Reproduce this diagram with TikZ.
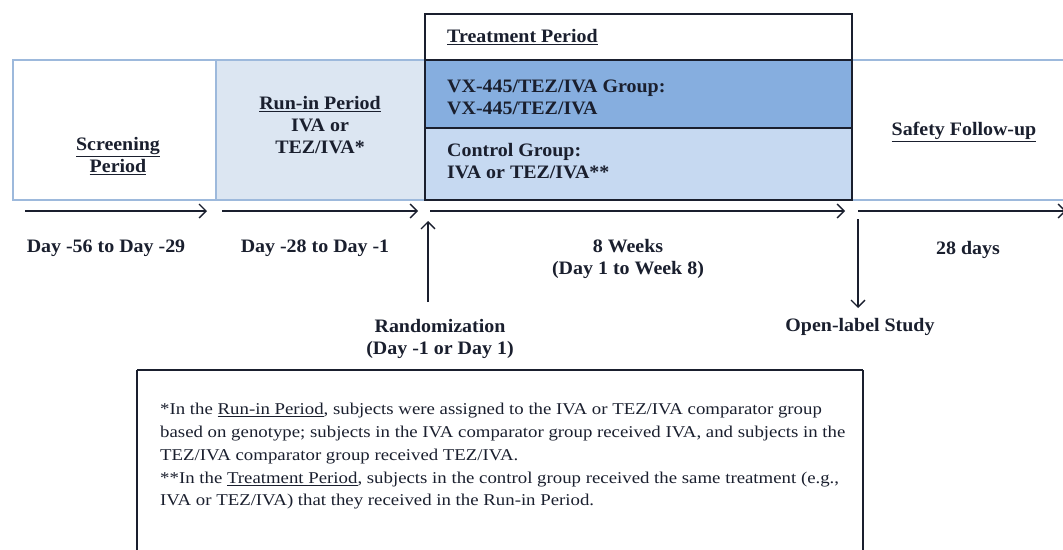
\documentclass[tikz,border=0pt]{standalone}
\usepackage{fontspec}
\setmainfont{Liberation Serif}
\newfontfamily\lblfont[FakeStretch=1.05]{Liberation Serif}
\newfontfamily\notefont[FakeStretch=1.14]{Liberation Serif}
\usetikzlibrary{arrows.meta}
\definecolor{bandline}{HTML}{9DB9DC}
\definecolor{runfill}{HTML}{DCE6F2}
\definecolor{vxfill}{HTML}{86AEDF}
\definecolor{ctlfill}{HTML}{C6D9F1}
\definecolor{ink}{HTML}{1A1F2E}
\tikzset{
  lbl/.style={font=\lblfont\fontsize{19}{22}\selectfont\bfseries, text=ink, inner sep=0pt, align=center},
  tlbl/.style={lbl, anchor=west, align=left},
  note/.style={font=\notefont\fontsize{16.5}{19}\selectfont, text=ink, inner sep=0pt, anchor=west},
  tl/.style={draw=ink, line width=1.3pt, -{Straight Barb[length=7pt,width=14pt,line width=1.3pt]}},
  box/.style={draw=ink, line width=1.8pt},
}
\begin{document}
\begin{tikzpicture}[x=1pt,y=-1pt]
\useasboundingbox (0,0) rectangle (1063,549);
% band
\fill[white] (13,60) rectangle (216,200);
\fill[runfill] (216,60) rectangle (425,200);
\draw[bandline, line width=1.2pt] (1063,60) -- (13,60) -- (13,200) -- (1063,200);
\draw[bandline, line width=1.2pt] (216,60) -- (216,200);
% treatment
\fill[white] (425,14) rectangle (852,60);
\fill[vxfill] (425,60) rectangle (852,128);
\fill[ctlfill] (425,128) rectangle (852,200);
\draw[box] (425,14) rectangle (852,200);
\draw[box] (425,60) -- (852,60);
\draw[box] (425,128) -- (852,128);
% labels
\node[lbl] (scr) at (118,156) {\underline{Screening}\\\underline{Period}};
\node[lbl] (run) at (320,125) {\underline{Run-in Period}\\IVA or\\TEZ/IVA*};
\node[tlbl] (trt) at (447,37) {\underline{Treatment Period}};
\node[tlbl] (vx) at (447,97) {VX-445/TEZ/IVA Group:\\VX-445/TEZ/IVA};
\node[tlbl] (ctl) at (447,161) {Control Group:\\IVA or TEZ/IVA**};
\node[lbl] (saf) at (964,132) {\underline{Safety Follow-up}};
% timeline
\coordinate (a1) at (25,211); \coordinate (b1) at (207,211);
\coordinate (a2) at (222,211); \coordinate (b2) at (418,211);
\coordinate (a3) at (430,211); \coordinate (b3) at (845,211);
\coordinate (a4) at (858,211); \coordinate (b4) at (1066,211);
\draw[tl] (a1) -- (b1);
\draw[tl] (a2) -- (b2);
\draw[tl] (a3) -- (b3);
\draw[tl] (a4) -- (b4);
\node[lbl] (d1) at (106,248) {Day -56 to Day -29};
\node[lbl] (d2) at (315,248) {Day -28 to Day -1};
\node[lbl] (d3) at (628,259) {8 Weeks\\(Day 1 to Week 8)};
\node[lbl] (d4) at (968,250) {28 days};
\node[lbl] (rnd) at (440,339) {Randomization\\(Day -1 or Day 1)};
\node[lbl] (ol) at (860,327) {Open-label Study};
\coordinate (ru) at (428,221);
\coordinate (rb) at (428,302);
\coordinate (ot) at (858,219);
\coordinate (od) at (858,308);
\draw[tl] (rb) -- (ru);
\draw[tl] (ot) -- (od);
% notes
\draw[box] (137,370) -- (863,370) (137,370) -- (137,560) (863,370) -- (863,560);
\node[note] (n1) at (160,411) {*In the \underline{Run-in Period}, subjects were assigned to the IVA or TEZ/IVA comparator group};
\node[note] (n2) at (160,434) {based on genotype; subjects in the IVA comparator group received IVA, and subjects in the};
\node[note] (n3) at (160,457) {TEZ/IVA comparator group received TEZ/IVA.};
\node[note] (n4) at (160,480) {**In the \underline{Treatment Period}, subjects in the control group received the same treatment (e.g.,};
\node[note] (n5) at (160,502) {IVA or TEZ/IVA) that they received in the Run-in Period.};
\end{tikzpicture}
\end{document}
